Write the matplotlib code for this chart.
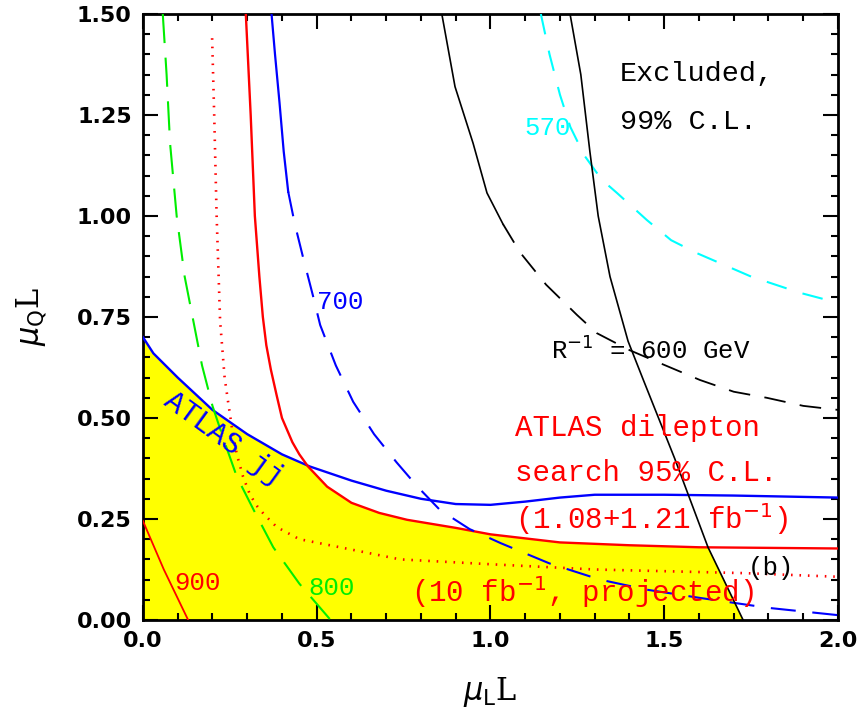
import numpy as np
import matplotlib
matplotlib.use('Agg')
import matplotlib.pyplot as plt
from matplotlib.ticker import MultipleLocator

# ATLAS jj (azul, solido)
jj_x = [0.0, 0.03, 0.1, 0.2, 0.3, 0.4, 0.48, 0.6, 0.7, 0.8, 0.9, 1.0, 1.1, 1.2, 1.3, 1.5, 1.7, 2.0]
jj_y = [0.70, 0.66, 0.60, 0.52, 0.46, 0.41, 0.38, 0.345, 0.32, 0.30, 0.287, 0.285, 0.293, 0.303, 0.31, 0.31, 0.308, 0.303]

# dilepton 1.08+1.21 fb^-1 (vermelho, solido)
dl_x = [0.296, 0.31, 0.322, 0.335, 0.345, 0.355, 0.368, 0.385, 0.40, 0.415, 0.43, 0.45, 0.475, 0.53, 0.6, 0.68, 0.76, 0.9, 1.0, 1.2, 1.4, 1.6, 2.0]
dl_y = [1.5, 1.25, 1.0, 0.85, 0.75, 0.68, 0.62, 0.555, 0.50, 0.47, 0.44, 0.41, 0.38, 0.33, 0.29, 0.265, 0.248, 0.228, 0.212, 0.192, 0.185, 0.18, 0.177]

# dilepton 10 fb^-1 projetado (vermelho, pontilhado)
dp_x = [0.199, 0.205, 0.212, 0.222, 0.235, 0.245, 0.257, 0.27, 0.288, 0.308, 0.33, 0.35, 0.385, 0.45, 0.567, 0.74, 1.0, 1.3, 1.73, 2.0]
dp_y = [1.44, 1.25, 1.0, 0.74, 0.6, 0.54, 0.47, 0.41, 0.355, 0.31, 0.28, 0.26, 0.23, 0.2, 0.18, 0.15, 0.138, 0.125, 0.116, 0.107]

# R^-1 = 900 GeV
r900_x = [0.0, 0.06, 0.13]
r900_y = [0.245, 0.125, 0.0]

# R^-1 = 800 GeV
r800_x = [0.057, 0.068, 0.078, 0.097, 0.12, 0.145, 0.17, 0.2, 0.235, 0.27, 0.32, 0.375, 0.45, 0.54]
r800_y = [1.5, 1.35, 1.18, 1.0, 0.85, 0.74, 0.63, 0.53, 0.44, 0.355, 0.27, 0.18, 0.09, 0.0]

# R^-1 = 700 GeV (parte solida e tracejada)
r700s_x = [0.37, 0.38, 0.393, 0.405, 0.418]
r700s_y = [1.5, 1.4, 1.28, 1.16, 1.06]
r700d_x = [0.418, 0.437, 0.46, 0.49, 0.51, 0.555, 0.605, 0.665, 0.73, 0.79, 0.855, 0.94, 1.03, 1.17, 1.315, 1.45, 1.6, 1.8, 2.0]
r700d_y = [1.06, 0.98, 0.9, 0.80, 0.73, 0.63, 0.54, 0.46, 0.39, 0.33, 0.272, 0.225, 0.19, 0.14, 0.10, 0.075, 0.055, 0.03, 0.012]

# R^-1 = 600 GeV (parte solida e tracejada)
r600s_x = [0.86, 0.898, 0.95, 0.99, 1.036]
r600s_y = [1.5, 1.32, 1.18, 1.057, 0.98]
r600d_x = [1.036, 1.085, 1.16, 1.249, 1.306, 1.40, 1.468, 1.603, 1.7, 1.795, 1.9, 2.0]
r600d_y = [0.98, 0.91, 0.83, 0.755, 0.71, 0.668, 0.643, 0.594, 0.565, 0.55, 0.53, 0.52]

# R^-1 = 570 GeV
r570_x = [1.145, 1.17, 1.2, 1.23, 1.27, 1.32, 1.364, 1.45, 1.52, 1.594, 1.75, 1.89, 2.0]
r570_y = [1.5, 1.40, 1.30, 1.22, 1.15, 1.09, 1.057, 0.99, 0.94, 0.908, 0.85, 0.81, 0.785]

# limite 99% C.L. (preto, solido)
ex_x = [1.229, 1.26, 1.286, 1.31, 1.344, 1.396, 1.44, 1.53, 1.626, 1.727]
ex_y = [1.5, 1.35, 1.16, 1.0, 0.85, 0.69, 0.594, 0.40, 0.18, 0.0]

fonte = 'Liberation Mono'

fig = plt.figure(figsize=(8.68, 7.2), dpi=100)
ax = fig.add_axes([0.1647, 0.1389, 0.8007, 0.8417])

# regiao permitida (amarela)
xg = np.linspace(0, 2.0, 2001)
topo = np.minimum(np.interp(xg, jj_x, jj_y), np.interp(xg, dl_x, dl_y))
topo = np.minimum(topo, np.interp(xg, ex_x, ex_y))
ax.fill_between(xg, 0, topo, where=topo > 0, color='#ffff00', lw=0, zorder=1)

ax.plot(jj_x, jj_y, color='blue', lw=1.7, zorder=3)
ax.plot(dl_x, dl_y, color='red', lw=1.7, zorder=3)
ax.plot(dp_x, dp_y, color='red', lw=1.9, linestyle=(0, (0.6, 2.6)), zorder=3)
ax.plot(r900_x, r900_y, color='red', lw=1.3, zorder=3)
ax.plot(r800_x, r800_y, color='#00ee00', lw=1.5, dashes=(14, 7), zorder=3)
ax.plot(r700s_x, r700s_y, color='blue', lw=1.6, zorder=3)
ax.plot(r700d_x, r700d_y, color='blue', lw=1.5, dashes=(12, 8), zorder=3)
ax.plot(r600s_x, r600s_y, color='black', lw=1.2, zorder=3)
ax.plot(r600d_x, r600d_y, color='black', lw=1.3, dashes=(12, 8), zorder=3)
ax.plot(r570_x, r570_y, color='cyan', lw=1.5, dashes=(10, 8), zorder=3)
ax.plot(ex_x, ex_y, color='black', lw=1.2, zorder=3)

# textos
ax.text(1.373, 1.335, 'Excluded,', fontsize=20.5, family=fonte, color='black')
ax.text(1.373, 1.215, '99% C.L.', fontsize=20.5, family=fonte, color='black')
ax.text(1.098, 1.2, '570', fontsize=18.5, family=fonte, color='cyan')
ax.text(0.50, 0.77, '700', fontsize=18.5, family=fonte, color='blue')
ax.text(1.175, 0.645, r'R$^{-1}$ = 600 GeV', fontsize=18.5, family=fonte, color='black')
ax.text(1.07, 0.455, 'ATLAS dilepton', fontsize=21, family=fonte, color='red')
ax.text(1.07, 0.345, 'search 95% C.L.', fontsize=21, family=fonte, color='red')
ax.text(1.07, 0.225, r'(1.08+1.21 fb$^{-1}$)', fontsize=21, family=fonte, color='red')
ax.text(1.74, 0.112, '(b)', fontsize=18.5, family=fonte, color='black')
ax.text(0.77, 0.045, r'(10 fb$^{-1}$, projected)', fontsize=21, family=fonte, color='red')
ax.text(0.09, 0.075, '900', fontsize=18.5, family=fonte, color='red')
ax.text(0.475, 0.062, '800', fontsize=18.5, family=fonte, color='#00ee00')
ax.text(0.055, 0.535, 'ATLAS jj', fontsize=21, family=fonte, color='blue',
        rotation=-36, rotation_mode='anchor')

ax.set_xlim(0, 2.0)
ax.set_ylim(0, 1.5)
ax.xaxis.set_major_locator(MultipleLocator(0.5))
ax.xaxis.set_minor_locator(MultipleLocator(0.1))
ax.yaxis.set_major_locator(MultipleLocator(0.25))
ax.yaxis.set_minor_locator(MultipleLocator(0.05))
ax.xaxis.set_major_formatter(plt.FuncFormatter(lambda v, p: '%.1f' % v))
ax.yaxis.set_major_formatter(plt.FuncFormatter(lambda v, p: '%.2f' % v))
ax.tick_params(which='both', direction='in', top=True, right=True, width=1.5)
ax.tick_params(which='major', length=11, labelsize=16, pad=8)
ax.tick_params(which='minor', length=5)
for lb in ax.get_xticklabels() + ax.get_yticklabels():
    lb.set_fontweight('bold')
for s in ax.spines.values():
    s.set_linewidth(2)

ax.set_xlabel(r'$\mu_{\rm L}$L', fontsize=22, family='DejaVu Serif', labelpad=17)
ax.set_ylabel(r'$\mu_{\rm Q}$L', fontsize=22, family='DejaVu Serif', labelpad=20)

fig.savefig('out.png', dpi=100)
